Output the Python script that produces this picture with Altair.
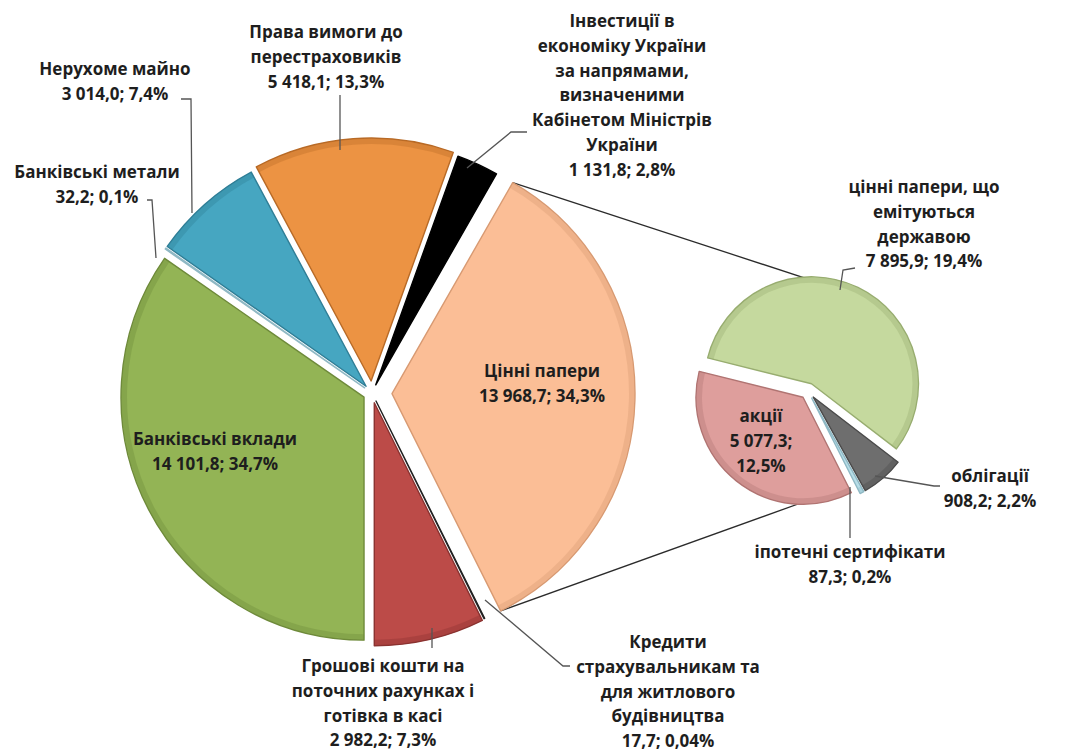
import math
import altair as alt
import pandas as pd

# ---------------- data ----------------
main_names = [
    "Банківські вклади",
    "Банківські метали",
    "Нерухоме майно",
    "Права вимоги до\nперестраховиків",
    "Інвестиції в\nекономіку України\nза напрямами,\nвизначеними\nКабінетом Міністрів\nУкраїни",
    "Цінні папери",
    "Кредити\nстрахувальникам та\nдля житлового\nбудівництва",
    "Грошові кошти на\nпоточних рахунках і\nготівка в касі",
]
main_values = [14101.8, 32.2, 3014.0, 5418.1, 1131.8, 13968.7, 17.7, 2982.2]
main_value_text = ["14 101,8", "32,2", "3 014,0", "5 418,1", "1 131,8", "13 968,7", "17,7", "2 982,2"]
main_pct_text = ["34,7%", "0,1%", "7,4%", "13,3%", "2,8%", "34,3%", "0,04%", "7,3%"]

sub_names = [
    "цінні папери, що\nемітуються\nдержавою",
    "облігації",
    "іпотечні сертифікати",
    "акції",
]
sub_values = [7895.9, 908.2, 87.3, 5077.3]
sub_value_text = ["7 895,9", "908,2", "87,3", "5 077,3"]
sub_pct_text = ["19,4%", "2,2%", "0,2%", "12,5%"]

# ---------------- styling / layout ----------------
main_colors = ["#93B455", "#B7DEE8", "#46A6C1", "#EC9343", "#000000", "#FBBE96", "#3A3A3A", "#BC4B48"]
main_strokes = ["#6E8A3A", "#8FB8C4", "#2F7E96", "#B86A26", "#000000", "#D89A72", "#222222", "#8A3230"]
main_explode = [9, 9, 9, 12, 9, 20, 9, 10]
sub_colors = ["#C5D99E", "#6E6E6E", "#B7DEE8", "#DE9E9C"]
sub_strokes = ["#98AD70", "#4A4A4A", "#8FB8C4", "#B07472"]
sub_explode = [8, 8, 8, 8]

M = 8  # page margin
W, H = 1051, 741
CX1, CY1, R1 = 372 - M, 393 - M, 243
START1 = math.pi              # first slice starts pointing down
CX2, CY2, R2 = 808 - M, 391 - M, 107
START2 = math.radians(284)
SUB_TOP_ANGLE = math.radians(12)
SUB_BOT_ANGLE = math.radians(176)
RIM = 6

FONT = "Open Sans"
FS = 17
LH = 24.8
TXT = "#1E1E1E"

# label anchor: (centre x, first-line centre y) in page px
label_pos = {
    main_names[0]: (215, 440),
    main_names[1]: (97, 173),
    main_names[2]: (115, 70),
    main_names[3]: (326, 33),
    main_names[4]: (622, 22),
    main_names[5]: (542, 372),
    main_names[6]: (668, 643),
    main_names[7]: (383, 667),
    sub_names[0]: (924, 188),
    sub_names[1]: (990, 477),
    sub_names[2]: (850, 553),
    sub_names[3]: (761, 417),
}
# leader polylines (page px)
leaders = [
    [(181, 99), (191, 99), (192, 213)],
    [(147, 200), (152, 200), (156, 258)],
    [(340, 95), (340, 150)],
    [(527, 132), (511, 132), (467, 168)],
    [(855, 268), (843, 270), (840, 290)],
    [(940, 486), (934, 486), (875, 476)],
    [(850, 487), (850, 538)],
    [(570, 666), (563, 666), (485, 600)],
    [(432, 628), (432, 648)],
]


def pie_df(names, values, colors, strokes, explode):
    return pd.DataFrame({
        "idx": list(range(len(names))),
        "name": names,
        "value": values,
        "color": colors,
        "strokec": strokes,
        "explode": explode,
    })


def pie_base(df, cx, cy, start):
    return (
        alt.Chart(df)
        .transform_joinaggregate(total="sum(value)")
        .transform_window(cum="sum(value)", sort=[alt.SortField("idx")], frame=[None, 0])
        .transform_calculate(
            t0="(datum.cum - datum.value) / datum.total",
            t1="datum.cum / datum.total",
            mid=f"{start} + 2 * PI * (datum.cum - datum.value / 2) / datum.total",
        )
        .transform_calculate(
            px=f"{cx} + datum.explode * sin(datum.mid)",
            py=f"{cy} - datum.explode * cos(datum.mid)",
        )
    )


def pie_layers(df, cx, cy, r, start):
    theta = alt.Theta("t0:Q", scale=alt.Scale(domain=[0, 1], range=[start, start + 2 * math.pi]))
    enc = dict(
        theta=theta,
        theta2="t1:Q",
        x=alt.X("px:Q", scale=None),
        y=alt.Y("py:Q", scale=None),
    )
    body = pie_base(df, cx, cy, start).mark_arc(outerRadius=r, strokeWidth=1.4, strokeJoin="round").encode(
        color=alt.Color("color:N", scale=None),
        stroke=alt.Stroke("strokec:N", scale=None),
        **enc,
    )
    rim = pie_base(df, cx, cy, start).mark_arc(
        outerRadius=r - 0.7, innerRadius=r - RIM, opacity=0.35, strokeWidth=0
    ).encode(color=alt.Color("strokec:N", scale=None), **enc)
    return [body, rim]


main_df = pie_df(main_names, main_values, main_colors, main_strokes, main_explode)
sub_df = pie_df(sub_names, sub_values, sub_colors, sub_strokes, sub_explode)

main_layers = pie_layers(main_df, CX1, CY1, R1, START1)
sub_layers = pie_layers(sub_df, CX2, CY2, R2, START2)

# connector lines from the split slice ("Цінні папери") to the secondary pie
tot = sum(main_values)
k = main_names.index("Цінні папери")
before = sum(main_values[:k])
a0 = START1 + 2 * math.pi * before / tot
a1 = START1 + 2 * math.pi * (before + main_values[k]) / tot
am = (a0 + a1) / 2
ax = CX1 + main_explode[k] * math.sin(am)
ay = CY1 - main_explode[k] * math.cos(am)
conn = pd.DataFrame({
    "x": [ax + R1 * math.sin(a0), ax + R1 * math.sin(a1)],
    "y": [ay - R1 * math.cos(a0), ay - R1 * math.cos(a1)],
    "x2": [CX2 + R2 * math.sin(SUB_TOP_ANGLE), CX2 + R2 * math.sin(SUB_BOT_ANGLE)],
    "y2": [CY2 - R2 * math.cos(SUB_TOP_ANGLE), CY2 - R2 * math.cos(SUB_BOT_ANGLE)],
})
conn_layer = alt.Chart(conn).mark_rule(color="#2B2B2B", strokeWidth=1.3).encode(
    x=alt.X("x:Q", scale=None), y=alt.Y("y:Q", scale=None),
    x2="x2:Q", y2="y2:Q",
)

# leader lines
rows = []
for i, pts in enumerate(leaders):
    for j, (x, y) in enumerate(pts):
        rows.append({"id": i, "k": j, "x": x - M, "y": y - M})
lead_layer = alt.Chart(pd.DataFrame(rows)).mark_line(color="#555555", strokeWidth=1.3).encode(
    x=alt.X("x:Q", scale=None), y=alt.Y("y:Q", scale=None),
    detail="id:N", order="k:Q",
)

# labels
lab_rows = []
for names, vt, pt in [(main_names, main_value_text, main_pct_text), (sub_names, sub_value_text, sub_pct_text)]:
    for n, v, p in zip(names, vt, pt):
        x, y = label_pos[n]
        if n == "акції":
            txt = f"{n}\n{v};\n{p}"
        else:
            txt = f"{n}\n{v}; {p}"
        lab_rows.append({"label": txt, "x": x - M, "y": y - M})
lab_layer = alt.Chart(pd.DataFrame(lab_rows)).mark_text(
    font=FONT, fontSize=FS, fontWeight="bold", color=TXT,
    align="center", baseline="middle", lineBreak="\n", lineHeight=LH,
).encode(
    x=alt.X("x:Q", scale=None), y=alt.Y("y:Q", scale=None), text="label:N",
)

chart = (
    alt.layer(conn_layer, *main_layers, *sub_layers, lead_layer, lab_layer)
    .resolve_scale(theta="independent")
    .properties(width=W, height=H, autosize="none", padding=0, background="white")
    .configure_view(stroke=None)
)

chart.save("out.html", embed_options={"renderer": "svg", "actions": False})
